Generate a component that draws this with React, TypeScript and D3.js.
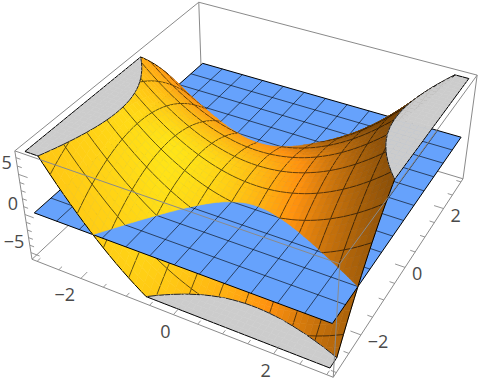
import React, { useMemo } from "react";
import * as d3 from "d3";

// Sample positions along both horizontal axes
const gridValues = [-3,-2.875,-2.75,-2.625,-2.5,-2.375,-2.25,-2.125,-2,-1.875,-1.75,-1.625,-1.5,-1.375,-1.25,-1.125,-1,-0.875,-0.75,-0.625,-0.5,-0.375,-0.25,-0.125,0,0.125,0.25,0.375,0.5,0.625,0.75,0.875,1,1.125,1.25,1.375,1.5,1.625,1.75,1.875,2,2.125,2.25,2.375,2.5,2.625,2.75,2.875,3];
// Height contribution along each axis
const profileX = [9,8.27,7.56,6.89,6.25,5.64,5.06,4.52,4,3.52,3.06,2.64,2.25,1.89,1.56,1.27,1,0.77,0.56,0.39,0.25,0.14,0.06,0.02,0,0.02,0.06,0.14,0.25,0.39,0.56,0.77,1,1.27,1.56,1.89,2.25,2.64,3.06,3.52,4,4.52,5.06,5.64,6.25,6.89,7.56,8.27,9];
const profileY = profileX;
const twist = 1;
const saddleHeight = 1;
const planeHeight = 0;
const xTicks = [-2, 0, 2];
const yTicks = [-2, 0, 2];
const zTicks = [-5, 0, 5];
const xMinor = [-3,-2.5,-1.5,-1,-0.5,0.5,1,1.5,2.5,3,-2,0,2];
const zMinor = [-5,-4,-3,-2,-1,0,1,2,3,4,5,6,7];
const boxH = 3.12;
const zLow = -5.9, zHigh = 7.8;
const clipLow = -5.64, clipHigh = 7.54;

type P = [number, number, number];
const cam: P = [1.3, -2.4, 2];
const dot = (a: number[], b: number[]) => a[0]*b[0]+a[1]*b[1]+a[2]*b[2];
const len = Math.hypot(...cam);
const fwd = cam.map((v) => -v / len);
const rl = Math.hypot(fwd[1], fwd[0]);
const right = [fwd[1]/rl, -fwd[0]/rl, 0];
const up = [right[1]*fwd[2]-right[2]*fwd[1], right[2]*fwd[0]-right[0]*fwd[2], right[0]*fwd[1]-right[1]*fwd[0]];

const sx = d3.scaleLinear().domain([-boxH, boxH]).range([-0.5, 0.5]);
const sz = d3.scaleLinear().domain([zLow, zHigh]).range([-0.2, 0.2]);
const SCALE = 1111, CX = 257.5, CY = 166;
function project(p: P): [number, number] {
  const q = [sx(p[0])-cam[0], sx(p[1])-cam[1], sz(p[2])-cam[2]];
  const d = dot(q, fwd);
  return [CX + SCALE*dot(q, right)/d, CY - SCALE*dot(q, up)/d];
}
const line = d3.line();
const pathOf = (pts: P[], close = false) => line(pts.map(project)) + (close ? "Z" : "");

function clipAbove(poly: P[], lv: number, keepAbove: boolean): P[] {
  const out: P[] = [];
  const inside = (p: P) => keepAbove ? p[2] >= lv : p[2] <= lv;
  for (let k = 0; k < poly.length; k++) {
    const a = poly[k], b = poly[(k+1)%poly.length];
    if (inside(a)) out.push(a);
    if (inside(a) !== inside(b)) {
      const t = (lv-a[2])/(b[2]-a[2]);
      out.push([a[0]+t*(b[0]-a[0]), a[1]+t*(b[1]-a[1]), lv]);
    }
  }
  return out;
}
function clipSeg(a: P, b: P, lo: number, hi: number): [P, P] | null {
  let t0 = 0, t1 = 1;
  const dz = b[2]-a[2];
  if (dz === 0) { if (a[2] < lo || a[2] > hi) return null; return [a, b]; }
  const ta = (lo-a[2])/dz, tb = (hi-a[2])/dz;
  t0 = Math.max(t0, Math.min(ta, tb));
  t1 = Math.min(t1, Math.max(ta, tb));
  if (t0 >= t1) return null;
  const at = (t: number): P => [a[0]+t*(b[0]-a[0]), a[1]+t*(b[1]-a[1]), a[2]+t*dz];
  return [at(t0), at(t1)];
}
function isoSeg(q: P[], lv: number): P[] {
  const pts: P[] = [];
  for (let k = 0; k < 4; k++) {
    const a = q[k], b = q[(k+1)%4];
    if ((a[2] >= lv) !== (b[2] >= lv)) {
      const t = (lv-a[2])/(b[2]-a[2]);
      pts.push([a[0]+t*(b[0]-a[0]), a[1]+t*(b[1]-a[1]), lv]);
    }
  }
  return pts.length >= 2 ? pts.slice(0, 2) : [];
}

function shade(zx: number, zy: number) {
  const kx = (sz(1)-sz(0))/(sx(1)-sx(0));
  const n = [-zx*kx, -zy*kx, 1];
  const m = Math.hypot(n[0], n[1], n[2]);
  const w = [n[0]/m, n[1]/m, n[2]/m];
  const g = 0.436*w[0] - 0.03*w[1] + 0.46*w[2] + 0.271 - 0.25*Math.max(0, w[1]) - 0.35*Math.max(0, w[0]-0.55);
  const toByte = (v: number) => Math.round(255*Math.max(0, Math.min(1, v)));
  return d3.rgb(toByte(g*1.75), toByte(g), toByte(g*0.1)).formatHex();
}

type El = { d: string; fill?: string; stroke?: string; w?: number; op?: number };
const MESH = "#000", MESHOP = 0.6, GRAY = "#cccccc", PLANE = "#66a2fc", BOXC = "#8a8a8a", TXT = "#4a4a4a";
const MESHSTEP = 4;

function buildAll() {
  const n = gridValues.length;
  const Z = (i: number, j: number) => saddleHeight + profileX[i] - profileY[j] + twist*gridValues[i]*gridValues[j];
  const V = (i: number, j: number): P => [gridValues[i], gridValues[j], Z(i, j)];
  const els: El[] = [];
  const layers: [number, number, number, boolean][] = [
    [clipLow, planeHeight, clipLow, false],
    [planeHeight, clipHigh, clipHigh, true],
  ];
  const edge = (a: P, b: P, lo: number, hi: number, L: number, capIsAbove: boolean, boundary: boolean) => {
    const s = clipSeg(a, b, lo, hi);
    if (s) els.push({ d: pathOf(s), stroke: boundary ? "#000" : MESH, w: 1, op: boundary ? 1 : MESHOP });
    if (boundary) {
      const c = capIsAbove ? clipSeg(a, b, L, 1e3) : clipSeg(a, b, -1e3, L);
      if (c) els.push({ d: pathOf([[c[0][0], c[0][1], L], [c[1][0], c[1][1], L]]), stroke: "#000", w: 1, op: 1 });
    }
  };
  layers.forEach(([lo, hi, L, capAbove], li) => {
    for (let j = n-2; j >= 0; j--) for (let i = 0; i < n-1; i++) {
      const q: P[] = [V(i,j), V(i+1,j), V(i+1,j+1), V(i,j+1)];
      const poly = clipAbove(clipAbove(q, lo, true), hi, false);
      if (poly.length >= 3) {
        const xm = (gridValues[i]+gridValues[i+1])/2, ym = (gridValues[j]+gridValues[j+1])/2;
        const col = shade(2*xm+twist*ym, -2*ym+twist*xm);
        els.push({ d: pathOf(poly, true), fill: col, stroke: col, w: 0.6 });
      }
      const cap = clipAbove(q, L, capAbove);
      if (cap.length >= 3) {
        const flat = cap.map((p) => [p[0], p[1], L] as P);
        els.push({ d: pathOf(flat, true), fill: GRAY, stroke: GRAY, w: 0.6 });
      }
      const iso = isoSeg(q, L);
      if (iso.length === 2) els.push({ d: pathOf(iso), stroke: "#000", w: 1, op: 0.85 });
      if (i % MESHSTEP === 0) edge(q[0], q[3], lo, hi, L, capAbove, i === 0);
      if ((j+1) % MESHSTEP === 0) edge(q[3], q[2], lo, hi, L, capAbove, j+1 === n-1);
      if (i === n-2) edge(q[1], q[2], lo, hi, L, capAbove, true);
      if (j === 0) edge(q[0], q[1], lo, hi, L, capAbove, true);
    }
    if (li === 0) {
      const g0 = gridValues[0], g1 = gridValues[n-1];
      const pl = (x: number, y: number): P => [x, y, planeHeight];
      els.push({ d: pathOf([pl(g0,g0), pl(g1,g0), pl(g1,g1), pl(g0,g1)], true), fill: PLANE });
      for (let k = MESHSTEP; k < n-1; k += MESHSTEP) {
        els.push({ d: pathOf([pl(gridValues[k],g0), pl(gridValues[k],g1)]), stroke: MESH, w: 1, op: MESHOP });
        els.push({ d: pathOf([pl(g0,gridValues[k]), pl(g1,gridValues[k])]), stroke: MESH, w: 1, op: MESHOP });
      }
      els.push({ d: pathOf([pl(g0,g0), pl(g1,g0), pl(g1,g1), pl(g0,g1)], true), stroke: "#000", w: 1 });
    }
  });
  return els;
}

export default function App() {
  const els = useMemo(buildAll, []);
  const h = boxH;
  const A: P = [-h,-h,zLow], B: P = [h,-h,zLow], C: P = [h,h,zLow], D: P = [-h,h,zLow];
  const At: P = [-h,-h,zHigh], Bt: P = [h,-h,zHigh], Ct: P = [h,h,zHigh], Dt: P = [-h,h,zHigh];
  const back: P[][] = [[A,D],[D,C],[A,At],[D,Dt],[C,Ct],[At,Dt],[Dt,Ct]];
  const front: P[][] = [[B,Bt],[At,Bt],[Bt,Ct],[A,B],[B,C]];
  const tick = (a: P, b: P, key: string) => <path key={key} d={pathOf([a,b])} stroke={BOXC} strokeWidth={0.9} fill="none" />;
  const major = 0.2, minor = 0.1;
  const txt = (p: P, dx: number, dy: number, v: number, key: string) => {
    const [x,y] = project(p);
    return <text key={key} x={x+dx} y={y+dy} textAnchor="middle" dominantBaseline="central" fontFamily="'Open Sans', sans-serif" fontSize={18} fill={TXT}>{v < 0 ? "\u2212"+Math.abs(v) : String(v)}</text>;
  };
  return (
    <svg width={480} height={382} viewBox="0 0 480 382" style={{ position: "absolute", left: 0, top: 0 }}>
      {back.map((s, i) => <path key={"b"+i} d={pathOf(s)} stroke={BOXC} strokeWidth={1} fill="none" />)}
      {els.map((e, i) => <path key={i} d={e.d} fill={e.fill ?? "none"} stroke={e.stroke ?? "none"} strokeWidth={e.w ?? 0} strokeOpacity={e.op ?? 1} strokeLinejoin="round" />)}
      {front.map((s, i) => <path key={"f"+i} d={pathOf(s)} stroke={BOXC} strokeWidth={1} fill="none" />)}
      {xMinor.map((v) => { const l = xTicks.includes(v) ? major : minor; return tick([v,-h,zLow],[v,-h+l,zLow],"xt"+v); })}
      {xMinor.map((v) => { const l = yTicks.includes(v) ? major : minor; return tick([h,v,zLow],[h-l,v,zLow],"yt"+v); })}
      {zMinor.map((v) => { const l = zTicks.includes(v) ? major : minor; return tick([-h,-h,v],[-h+l,-h,v],"zt"+v); })}
      {xTicks.map((v) => txt([v,-h,zLow], v<0?-16:-8, 16, v, "xl"+v))}
      {yTicks.map((v) => txt([h,v,zLow], v<0?17:12, 6, v, "yl"+v))}
      {zTicks.map((v) => txt([-h,-h,v], v<0?-17:-12, -12, v, "zl"+v))}
    </svg>
  );
}
